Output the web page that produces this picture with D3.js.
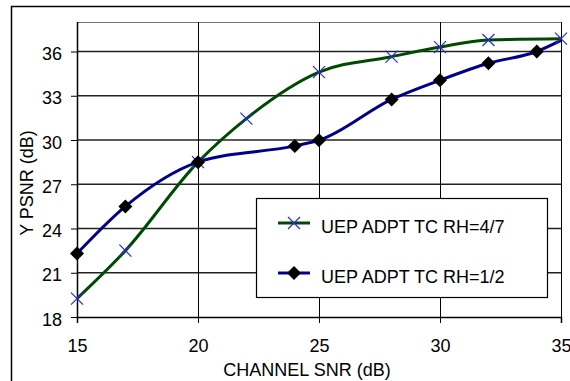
<!DOCTYPE html>
<html>
<head>
<meta charset="utf-8">
<script src="https://cdn.jsdelivr.net/npm/d3@7"></script>
<style>
  html, body { margin: 0; padding: 0; background: #fff; }
  svg { display: block; font-family: "Liberation Sans", Arial, sans-serif; }
</style>
</head>
<body>
<svg id="chart" width="570" height="381"></svg>
<script>
// data
const snrHigh = [15, 17, 20, 22, 25, 28, 30, 32, 35]
const psnrHigh = [19.25, 22.5, 28.5, 31.45, 34.6, 35.65, 36.3, 36.78, 36.87]
const snrHalf = [15, 17, 20, 24, 25, 28, 30, 32, 34, 35]
const psnrHalf = [22.3, 25.5, 28.5, 29.6, 29.98, 32.75, 34.05, 35.2, 36.0, 36.75]
const halfMarkerAt = [15, 17, 20, 24, 25, 28, 30, 32, 34]
const seriesNames = ['UEP ADPT TC RH=4/7', 'UEP ADPT TC RH=1/2']
const xTicks = [15, 20, 25, 30, 35]
const yTicks = [18, 21, 24, 27, 30, 33, 36]

const svg = d3.select('#chart')

// Setup
const plot = { left: 77, top: 22, right: 561, bottom: 317 }
const x = d3.scaleLinear().domain([15, 35]).range([plot.left, plot.right])
const y = d3.scaleLinear().domain([18, 38]).range([plot.bottom, plot.top])

// outer frame (only top & left visible)
svg.append('path')
	.attr('d', 'M11.5,390 V6.5 H580')
	.attr('fill', 'none')
	.attr('stroke', '#000')
	.attr('stroke-width', 1.5)

// plot border top (gray)
svg.append('line')
	.attr('x1', plot.left).attr('x2', plot.right)
	.attr('y1', plot.top + 0.5).attr('y2', plot.top + 0.5)
	.attr('stroke', '#777')

// horizontal grid
svg.append('g')
	.selectAll('line')
	.data(yTicks.slice(1))
	.enter()
	.append('line')
	.attr('x1', plot.left).attr('x2', plot.right)
	.attr('y1', (d) => y(d)).attr('y2', (d) => y(d))
	.attr('stroke', '#222')
	.attr('stroke-width', 1.5)

// vertical grid incl. right border
svg.append('g')
	.selectAll('line')
	.data(xTicks.slice(1))
	.enter()
	.append('line')
	.attr('x1', (d) => Math.round(x(d)) + 0.5).attr('x2', (d) => Math.round(x(d)) + 0.5)
	.attr('y1', plot.top).attr('y2', plot.bottom)
	.attr('stroke', '#000')

// axes
const xAxis = svg.append('g')
	.attr('transform', `translate(0, ${plot.bottom})`)
	.call(d3.axisBottom(x).tickValues(xTicks).tickSize(6).tickFormat(d3.format('d')))
xAxis.select('.domain').attr('stroke', '#000').attr('stroke-width', 1.5)
xAxis.selectAll('.tick line').attr('stroke', '#000')
xAxis.selectAll('.tick text')
	.attr('font-size', 18).attr('fill', '#000')
	.attr('font-family', '"Liberation Sans", Arial, sans-serif')
	.attr('y', 22).attr('dy', '0.71em')

const yAxis = svg.append('g')
	.attr('transform', `translate(${plot.left}, 0)`)
	.call(d3.axisLeft(y).tickValues(yTicks).tickSize(6))
yAxis.select('.domain').attr('d', `M0.5,${plot.top}V${plot.bottom}`).attr('stroke', '#000').attr('stroke-width', 1.5)
yAxis.selectAll('.tick line').attr('stroke', '#000')
yAxis.selectAll('.tick text')
	.attr('font-size', 18).attr('fill', '#000')
	.attr('font-family', '"Liberation Sans", Arial, sans-serif')
	.attr('x', -15).attr('dy', '0.45em')

// titles
svg.append('text')
	.attr('x', 307).attr('y', 376)
	.attr('text-anchor', 'middle')
	.attr('font-size', 18)
	.text('CHANNEL SNR (dB)')

svg.append('text')
	.attr('transform', 'translate(33, 183) rotate(-90)')
	.attr('text-anchor', 'middle')
	.attr('font-size', 18)
	.text('Y PSNR (dB)')

// lines
const line = d3.line()
	.x((d) => x(d[0]))
	.y((d) => y(d[1]))
	.curve(d3.curveMonotoneX)

const highPts = snrHigh.map((s, i) => [s, psnrHigh[i]])
const halfPts = snrHalf.map((s, i) => [s, psnrHalf[i]])

const greenCol = '#004a00'
const blueCol = '#00008c'
const crossCol = '#2a2ad0'

svg.append('path')
	.datum(halfPts)
	.attr('d', line)
	.attr('fill', 'none')
	.attr('stroke', blueCol)
	.attr('stroke-width', 3)

svg.append('path')
	.datum(highPts)
	.attr('d', line)
	.attr('fill', 'none')
	.attr('stroke', greenCol)
	.attr('stroke-width', 3)

// markers
const crossPath = 'M-6,-6L6,6M-6,6L6,-6'
const diamondPath = 'M0,-7L7,0L0,7L-7,0Z'

svg.append('g')
	.selectAll('path')
	.data(highPts)
	.enter()
	.append('path')
	.attr('transform', (d) => `translate(${x(d[0])}, ${y(d[1])})`)
	.attr('d', crossPath)
	.attr('stroke', crossCol)
	.attr('stroke-width', 1.2)
	.attr('fill', 'none')

svg.append('g')
	.selectAll('path')
	.data(halfPts.filter((d) => halfMarkerAt.includes(d[0])))
	.enter()
	.append('path')
	.attr('transform', (d) => `translate(${x(d[0])}, ${y(d[1])})`)
	.attr('d', diamondPath)
	.attr('fill', '#000')

// legend
const legend = svg.append('g')
legend.append('rect')
	.attr('x', 256.5).attr('y', 198.5)
	.attr('width', 291).attr('height', 99)
	.attr('fill', '#fff')
	.attr('stroke', '#000')
	.attr('stroke-width', 1.2)

const legendRows = [
	{ name: seriesNames[0], y: 223, color: greenCol, marker: 'cross' },
	{ name: seriesNames[1], y: 273, color: blueCol, marker: 'diamond' }
]

legendRows.forEach((row) => {
	legend.append('line')
		.attr('x1', 278).attr('x2', 310)
		.attr('y1', row.y).attr('y2', row.y)
		.attr('stroke', row.color)
		.attr('stroke-width', 3)
	const m = legend.append('path')
		.attr('transform', `translate(294, ${row.y})`)
	if (row.marker === 'cross') {
		m.attr('d', crossPath).attr('stroke', crossCol).attr('stroke-width', 1.2).attr('fill', 'none')
	} else {
		m.attr('d', diamondPath).attr('fill', '#000')
	}
	legend.append('text')
		.attr('x', 321).attr('y', row.y + 10)
		.attr('font-size', 18)
		.text(row.name)
})
</script>
</body>
</html>
